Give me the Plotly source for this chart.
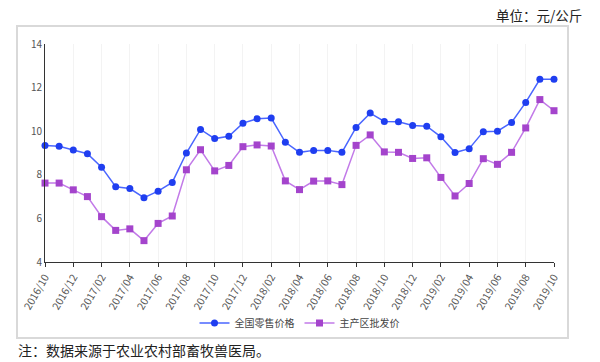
import plotly.graph_objects as go

months = ["2016/10","2016/11","2016/12","2017/01","2017/02","2017/03","2017/04","2017/05","2017/06",
          "2017/07","2017/08","2017/09","2017/10","2017/11","2017/12","2018/01","2018/02","2018/03",
          "2018/04","2018/05","2018/06","2018/07","2018/08","2018/09","2018/10","2018/11","2018/12",
          "2019/01","2019/02","2019/03","2019/04","2019/05","2019/06","2019/07","2019/08","2019/09","2019/10"]
retail = [9.34, 9.31, 9.14, 8.97, 8.35, 7.45, 7.37, 6.95, 7.25, 7.65, 9.0, 10.08, 9.66, 9.77, 10.37,
          10.57, 10.6, 9.49, 9.03, 9.12, 9.12, 9.03, 10.17, 10.83, 10.45, 10.43, 10.26, 10.23, 9.74,
          9.02, 9.2, 9.98, 10.0, 10.4, 11.32, 12.38, 12.38]
wholesale = [7.62, 7.62, 7.31, 7.0, 6.08, 5.45, 5.52, 4.98, 5.77, 6.11, 8.23, 9.15, 8.18, 8.43, 9.29,
             9.37, 9.32, 7.72, 7.32, 7.71, 7.72, 7.55, 9.35, 9.83, 9.05, 9.03, 8.75, 8.78, 7.88,
             7.03, 7.6, 8.74, 8.48, 9.03, 10.15, 11.45, 10.94]
series_names = ["全国零售价格", "主产区批发价"]
tick_labels = months[::2]

x = list(range(len(months)))
FONT = "Noto Sans CJK SC"

# plot area in pixels: x 45..554, y 44..262
PL, PR, PT, PB = 45, 554, 44, 262
def px(xp):
    return (xp - PL) / (PR - PL)
def py(yp):
    return (PB - yp) / (PB - PT)

fig = go.Figure()
fig.add_trace(go.Scatter(
    x=x, y=retail, name=series_names[0], mode="lines+markers",
    line=dict(color="#4a66ff", width=1.5),
    marker=dict(symbol="circle", size=7, color="#1f3ef0"),
    cliponaxis=False))
fig.add_trace(go.Scatter(
    x=x, y=wholesale, name=series_names[1], mode="lines+markers",
    line=dict(color="#c27ae8", width=1.5),
    marker=dict(symbol="square", size=7, color="#a444cc"),
    cliponaxis=False))

fig.update_layout(
    width=600, height=362,
    margin=dict(l=PL, r=600 - PR, t=PT, b=362 - PB, autoexpand=False),
    paper_bgcolor="white", plot_bgcolor="white",
    font=dict(family=FONT, size=10, color="#555555"),
    showlegend=True,
    legend=dict(orientation="h", x=0.5, xanchor="center", y=py(323), yanchor="middle",
                font=dict(size=10, color="#444444"), itemwidth=30, tracegroupgap=0,
                bgcolor="rgba(0,0,0,0)"),
    xaxis=dict(range=[0, 36], tickmode="array", tickvals=x[::2], ticktext=tick_labels,
               tickangle=-60, showline=True, linecolor="#333333", linewidth=1,
               ticks="outside", ticklen=4, tickcolor="#333333", automargin=False,
               showgrid=True, gridcolor="#f3f3f3", gridwidth=1, zeroline=False,
               tickfont=dict(size=10.5, color="#555555")),
    yaxis=dict(range=[4, 14], dtick=2, showline=True, linecolor="#333333", linewidth=1,
               ticks="", showgrid=False, zeroline=False, automargin=False,
               tickfont=dict(size=10, color="#555555")),
)

fig.add_shape(type="rect", xref="paper", yref="paper",
              x0=px(17), x1=px(568), y0=py(338), y1=py(26),
              line=dict(color="#d9d9d9", width=2), fillcolor="rgba(0,0,0,0)", layer="below")

fig.add_annotation(text="单位：元/公斤", xref="paper", yref="paper",
                   x=px(584), y=py(15), xanchor="right", yanchor="middle",
                   showarrow=False, font=dict(family=FONT, size=13.5, color="#222222"))
fig.add_annotation(text="注：数据来源于农业农村部畜牧兽医局。", xref="paper", yref="paper",
                   x=px(16), y=py(350), xanchor="left", yanchor="middle",
                   showarrow=False, font=dict(family=FONT, size=14, color="#222222"))

fig.write_html("out.html", config={"displayModeBar": False},
               post_script="document.body.style.margin='0';document.body.style.overflow='hidden';")
